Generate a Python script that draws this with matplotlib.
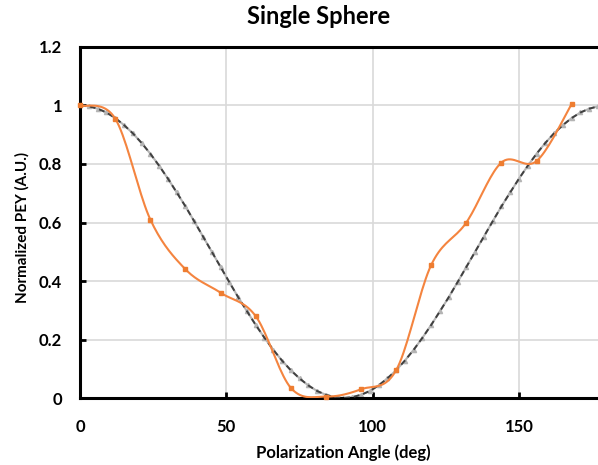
import numpy as np
import matplotlib.pyplot as plt
from matplotlib.ticker import FuncFormatter

# measured PEY (orange)
angle_meas = [0, 12, 24, 36, 48, 60, 72, 84, 96, 108, 120, 132, 144, 156, 168]
pey_meas = [1.0, 0.955, 0.61, 0.44, 0.36, 0.28, 0.035, 0.005, 0.03, 0.095,
            0.455, 0.60, 0.805, 0.81, 1.005]

# model curve (gray, cos^2 shape)
angle_model = list(range(0, 181, 3))
pey_model = [1.000, 0.997, 0.989, 0.976, 0.957, 0.933, 0.905, 0.872, 0.835, 0.794,
             0.750, 0.703, 0.655, 0.604, 0.552, 0.500, 0.448, 0.396, 0.345, 0.297,
             0.250, 0.206, 0.165, 0.128, 0.095, 0.067, 0.043, 0.024, 0.011, 0.003,
             0.000, 0.003, 0.011, 0.024, 0.043, 0.067, 0.095, 0.128, 0.165, 0.206,
             0.250, 0.297, 0.345, 0.396, 0.448, 0.500, 0.552, 0.604, 0.655, 0.703,
             0.750, 0.794, 0.835, 0.872, 0.905, 0.933, 0.957, 0.976, 0.989, 0.997,
             1.000]

plt.rcParams['font.family'] = ['Lato', 'DejaVu Sans']
plt.rcParams['font.weight'] = 'bold'


# Excel-like smoothed line (Catmull-Rom through the points)
def smooth(x, y, n=20):
    x = np.asarray(x, float)
    y = np.asarray(y, float)
    px = np.concatenate([[x[0]], x, [x[-1]]])
    py = np.concatenate([[y[0]], y, [y[-1]]])
    xs, ys = [], []
    t = np.linspace(0, 1, n)
    for i in range(1, len(px) - 2):
        for arr, out in ((px, xs), (py, ys)):
            p0, p1, p2, p3 = arr[i - 1], arr[i], arr[i + 1], arr[i + 2]
            c1 = p1 + (p2 - p0) / 6
            c2 = p2 - (p3 - p1) / 6
            out.extend((1 - t) ** 3 * p1 + 3 * (1 - t) ** 2 * t * c1
                       + 3 * (1 - t) * t ** 2 * c2 + t ** 3 * p2)
    return np.array(xs), np.array(ys)


fig = plt.figure(figsize=(5.98, 4.65), dpi=100)
ax = fig.add_axes([0.134, 0.144, 0.866, 0.755])

ax.grid(True, color='#d9d9d9', linewidth=1.2, zorder=0)

ax.plot(angle_model, pey_model, color='#b4b4b4', linewidth=1.5,
        marker='^', markersize=3, zorder=2)
ax.plot(angle_model, pey_model, color='#404040', linewidth=1.4,
        dashes=(3, 2), zorder=3)

sx, sy = smooth(angle_meas, pey_meas)
ax.plot(sx, sy, color='#f4843f', linewidth=1.5, zorder=4)
ax.plot(angle_meas, pey_meas, linestyle='none', marker='s', markersize=3.5,
        color='#ee7d31', zorder=5, clip_on=False)

ax.set_xlim(0, 177)
ax.set_ylim(0, 1.2)
ax.set_xticks([0, 50, 100, 150])
ax.set_yticks([0, 0.2, 0.4, 0.6, 0.8, 1.0, 1.2])
ax.yaxis.set_major_formatter(FuncFormatter(lambda v, p: f'{v:g}'))

for s in ['left', 'bottom', 'top']:
    ax.spines[s].set_linewidth(2.2)
ax.spines['right'].set_visible(False)
ax.tick_params(direction='in', length=4, width=2, labelsize=12)
ax.tick_params(axis='x', pad=15)
ax.tick_params(axis='y', pad=13)

fig.text(0.533, 0.948, 'Single Sphere', fontsize=17, fontweight='bold',
         ha='center', va='baseline')
fig.text(0.574, 0.014, 'Polarization Angle (deg)', fontsize=12, fontweight='bold',
         ha='center', va='baseline')
fig.text(0.037, 0.51, 'Normalized PEY (A.U.)', fontsize=11, fontweight='bold',
         ha='center', va='center', rotation=90)

fig.savefig('out.png', dpi=100)
